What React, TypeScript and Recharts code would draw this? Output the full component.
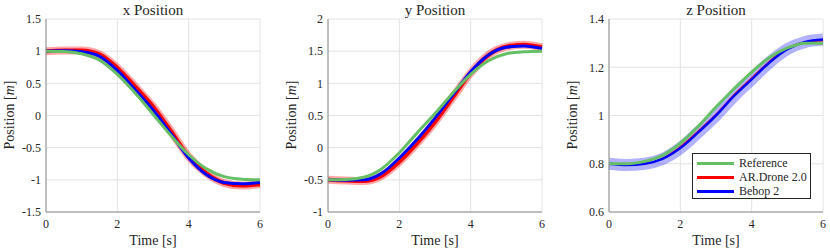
import { LineChart, Line, XAxis, YAxis, CartesianGrid } from "recharts";

const time = [0, 0.5, 1, 1.5, 2, 2.5, 3, 3.5, 4, 4.5, 5, 5.5, 6];

const xReference = [1.0, 0.995, 0.96, 0.86, 0.64, 0.35, 0.02, -0.31, -0.61, -0.83, -0.95, -0.99, -1.0];
const xArDrone = [1.0, 1.01, 1.01, 0.95, 0.74, 0.45, 0.14, -0.24, -0.64, -0.9, -1.05, -1.09, -1.07];
const xBebop = [1.0, 1.005, 0.99, 0.92, 0.7, 0.4, 0.09, -0.28, -0.66, -0.92, -1.04, -1.06, -1.04];

const yReference = [-0.5, -0.495, -0.46, -0.33, -0.08, 0.23, 0.53, 0.85, 1.14, 1.35, 1.46, 1.49, 1.5];
const yArDrone = [-0.5, -0.51, -0.52, -0.44, -0.22, 0.07, 0.4, 0.78, 1.16, 1.44, 1.57, 1.6, 1.56];
const yBebop = [-0.5, -0.505, -0.5, -0.4, -0.16, 0.13, 0.46, 0.82, 1.18, 1.44, 1.56, 1.58, 1.54];

const zReference = [0.8, 0.8, 0.81, 0.835, 0.885, 0.955, 1.035, 1.11, 1.18, 1.24, 1.28, 1.3, 1.3];
const zArDrone = [0.8, 0.797, 0.8, 0.822, 0.87, 0.935, 1.005, 1.085, 1.155, 1.225, 1.28, 1.305, 1.31];
const zBebop = [0.8, 0.795, 0.8, 0.82, 0.865, 0.93, 1.0, 1.08, 1.15, 1.22, 1.275, 1.305, 1.315];

const timeTicks = [0, 2, 4, 6];
const xTicks = [-1.5, -1, -0.5, 0, 0.5, 1, 1.5];
const yTicks = [-1, -0.5, 0, 0.5, 1, 1.5, 2];
const zTicks = [0.6, 0.8, 1, 1.2, 1.4];

const GREEN = "#66bf66";
const RED = "#ff0000";
const BLUE = "#0000ff";

const legendItems = [
  { name: "Reference", color: GREEN },
  { name: "AR.Drone 2.0", color: RED },
  { name: "Bebop 2", color: BLUE },
];

const FONT = "Liberation Serif, DejaVu Serif, serif";
const TEXT = "#262626";

function build(ref: number[], ar: number[], bebop: number[]) {
  return time.map((t, i) => ({ t, ref: ref[i], ar: ar[i], bebop: bebop[i] }));
}

const W = 264;
const H = 252;
const PLOT_LEFT = 46;
const PLOT_W = 214;

interface PanelProps {
  left: number;
  title: string;
  data: { t: number; ref: number; ar: number; bebop: number }[];
  ticks: number[];
  band: "ar" | "bebop";
  legend?: boolean;
}

function Panel({ left, title, data, ticks, band, legend }: PanelProps) {
  const tickStyle = { fontSize: 12, fill: TEXT, fontFamily: FONT };
  const center = left + PLOT_LEFT + PLOT_W / 2;
  return (
    <>
      <div style={{ position: "absolute", left, top: 0 }}>
        <LineChart width={W} height={H} data={data} margin={{ top: 19, right: 4, bottom: 0, left: 0 }}>
          <CartesianGrid stroke="#e3e3e3" strokeWidth={1} />
          <XAxis
            dataKey="t"
            type="number"
            domain={[0, 6]}
            ticks={timeTicks}
            height={40}
            tick={tickStyle}
            tickLine={false}
            tickSize={0}
            tickMargin={7}
            axisLine={{ stroke: "#8c8c8c" }}
          />
          <YAxis
            type="number"
            domain={[ticks[0], ticks[ticks.length - 1]]}
            ticks={ticks}
            width={PLOT_LEFT}
            tick={tickStyle}
            tickLine={false}
            tickSize={0}
            tickMargin={5}
            axisLine={{ stroke: "#8c8c8c" }}
            allowDataOverflow
          />
          {band === "ar" ? (
            <Line dataKey="ar" type="monotone" stroke={RED} strokeOpacity={0.35} strokeWidth={8} dot={false} isAnimationActive={false} />
          ) : (
            <Line dataKey="bebop" type="monotone" stroke={BLUE} strokeOpacity={0.3} strokeWidth={12} dot={false} isAnimationActive={false} />
          )}
          <Line dataKey="ar" type="monotone" stroke={RED} strokeWidth={band === "ar" ? 4 : 1.5} dot={false} isAnimationActive={false} />
          <Line dataKey="bebop" type="monotone" stroke={BLUE} strokeWidth={band === "ar" ? 3 : 2.5} dot={false} isAnimationActive={false} />
          <Line dataKey="ref" type="monotone" stroke={GREEN} strokeWidth={3} dot={false} isAnimationActive={false} />
        </LineChart>
      </div>
      <div style={{ position: "absolute", left: center - 60, width: 120, top: 1, textAlign: "center", fontFamily: FONT, fontSize: 15, color: TEXT, lineHeight: "18px" }}>
        {title}
      </div>
      <div style={{ position: "absolute", left: center - 50, width: 100, top: 232, textAlign: "center", fontFamily: FONT, fontSize: 14, color: TEXT, lineHeight: "18px" }}>
        Time [s]
      </div>
      <div
        style={{
          position: "absolute",
          left: left + 10 - 50,
          top: 115 - 9,
          width: 100,
          textAlign: "center",
          fontFamily: FONT,
          fontSize: 14,
          color: TEXT,
          lineHeight: "18px",
          transform: "rotate(-90deg)",
        }}
      >
        Position [<i>m</i>]
      </div>
      {legend && (
        <div
          style={{
            position: "absolute",
            left: 692,
            top: 153,
            width: 119,
            height: 46,
            border: "1px solid #262626",
            background: "#fff",
            boxSizing: "border-box",
            padding: "2px 0 0 4px",
          }}
        >
          {legendItems.map((it) => (
            <div key={it.name} style={{ display: "flex", alignItems: "center", height: 14, fontFamily: FONT, fontSize: 12, color: TEXT }}>
              <span style={{ display: "inline-block", width: 37, height: 3, background: it.color, marginRight: 5 }} />
              {it.name}
            </div>
          ))}
        </div>
      )}
    </>
  );
}

export default function App() {
  return (
    <div style={{ position: "absolute", left: 0, top: 0, width: 830, height: 252, background: "#fff" }}>
      <Panel left={0} title="x Position" data={build(xReference, xArDrone, xBebop)} ticks={xTicks} band="ar" />
      <Panel left={282} title="y Position" data={build(yReference, yArDrone, yBebop)} ticks={yTicks} band="ar" />
      <Panel left={563} title="z Position" data={build(zReference, zArDrone, zBebop)} ticks={zTicks} band="bebop" legend />
    </div>
  );
}
